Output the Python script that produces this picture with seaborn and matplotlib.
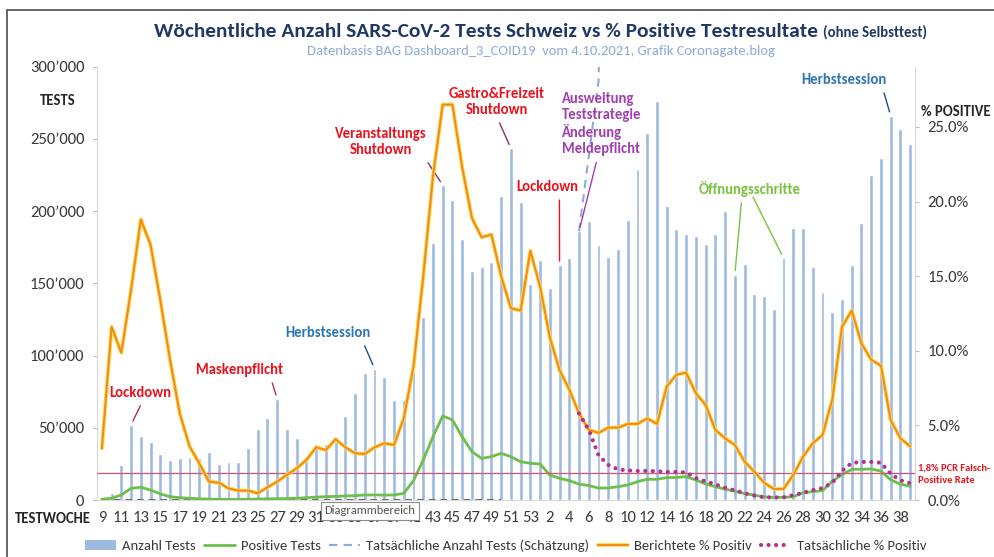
import numpy as np
import pandas as pd
import seaborn as sns
import matplotlib.pyplot as plt
import matplotlib.patheffects as pe
from matplotlib import font_manager
from matplotlib.lines import Line2D
from matplotlib.patches import Patch

# Testwochen KW 9/2020 bis KW 39/2021
weeks = list(range(9, 54)) + list(range(1, 40))
week_labels = [str(w) if i % 2 == 0 else '' for i, w in enumerate(weeks)]

# Anzahl Tests pro Woche (linke Achse)
tests = [800, 5000, 24000, 52000, 44000, 40000, 32000, 28000, 29000, 30000,
         29000, 33000, 25000, 26500, 26000, 36000, 49000, 57000, 70000, 49000,
         43000, 29000, 39000, 39000, 40500, 58000, 74000, 88000, 91000, 85500,
         69000, 69000, 89500, 127000, 178000, 218000, 208000, 180500, 158500, 161000,
         165000, 210500, 243500, 206500, 149500, 166500, 147000, 162500, 167500, 186000,
         193500, 176500, 168000, 174000, 194000, 229000, 254000, 276000, 203500, 187500,
         184000, 183000, 177000, 184000, 200000, 156000, 163500, 142500, 141000, 132500,
         167500, 188000, 188000, 161000, 144000, 130500, 139500, 162500, 191500, 225000,
         237000, 266000, 257000, 246500]

# positive Tests pro Woche (linke Achse)
positive = [500, 1200, 3500, 8100, 8800, 6900, 4200, 2300, 1600, 1200,
            800, 600, 500, 400, 400, 500, 700, 800, 900, 1000,
            1200, 1600, 2000, 2300, 2500, 2800, 3000, 3500, 3500, 3400,
            3500, 4600, 13400, 27700, 43800, 58200, 55400, 43800, 33500, 28800,
            30000, 32300, 30000, 26500, 25400, 24900, 17300, 15000, 13400, 11000,
            10000, 8300, 8300, 9200, 10400, 12700, 14300, 14300, 15500, 15600,
            16200, 13800, 11100, 9200, 7500, 6000, 4500, 3300, 2200, 1800,
            1800, 2200, 5000, 5800, 6500, 13000, 17500, 21200, 21300, 21500,
            20000, 14000, 11000, 9500]

# Tatsächliche Anzahl Tests (Schätzung)
est_zero_pos = list(range(0, 42))
est_zero = [0] * 42
est_pos = [49, 50, 51, 52]
est_tests = [186000, 238000, 290000, 600000]

# Berichtete % Positiv (rechte Achse)
pct_reported = [3.46, 11.6, 9.87, 14.1, 18.8, 17.1, 13.4, 9.4, 5.8, 3.6,
                2.46, 1.23, 1.16, 0.78, 0.63, 0.63, 0.45, 0.85, 1.23, 1.68,
                2.12, 2.68, 3.53, 3.35, 4.07, 3.53, 3.13, 3.08, 3.53, 3.8,
                3.69, 5.47, 8.94, 14.97, 21.7, 26.5, 26.5, 22.3, 18.9, 17.6,
                17.8, 15.0, 12.85, 12.7, 16.7, 14.3, 10.9, 8.7, 7.4, 5.8,
                4.7, 4.5, 4.85, 4.85, 5.1, 5.1, 5.47, 5.1, 7.6, 8.4,
                8.53, 7.15, 6.37, 4.7, 4.13, 3.69, 2.57, 1.9, 1.16, 0.74,
                0.74, 1.68, 2.9, 3.8, 4.36, 6.7, 11.6, 12.7, 10.5, 9.4,
                9.0, 5.36, 4.13, 3.6]

# Tatsächliche % Positiv ab KW 5/2021
pct_actual_pos = list(range(49, 84))
pct_actual = [5.8, 4.7, 3.0, 2.35, 2.05, 1.98, 1.95, 1.95, 1.93, 1.88,
              1.88, 1.85, 1.47, 1.24, 1.05, 0.82, 0.65, 0.45, 0.3, 0.18,
              0.17, 0.18, 0.33, 0.48, 0.66, 0.8, 1.15, 1.95, 2.48, 2.55,
              2.55, 2.5, 1.75, 1.32, 1.13]

false_pos_rate = 1.8

names = {f.name for f in font_manager.fontManager.ttflist}
base = next((n for n in ['Carlito', 'IBM Plex Sans Condensed', 'Liberation Sans'] if n in names),
            'DejaVu Sans')
sns.set_style('white')
plt.rcParams['font.family'] = [base, 'DejaVu Sans']

W, H = 995, 557
def fp(x, y):
    # Pixel (von oben links) -> figure fraction
    return (x / W, 1 - y / H)

RED = '#e8131f'
BLUE = '#2e75b6'
PURPLE = '#a040b0'
GREEN = '#7cc242'
TXT = '#3a3a3a'
BAR = '#9dbbe0'
ORANGE = '#f08a1c'
GLOW = [pe.Stroke(linewidth=2.8, foreground='#ffd84a'), pe.Normal()]

df = pd.DataFrame({'pos': range(len(weeks)), 'tests': tests,
                   'positive': positive, 'pct': pct_reported})

fig = plt.figure(figsize=(W / 100, H / 100), dpi=100)
ax = fig.add_axes([97 / W, 1 - 500 / H, (915 - 97) / W, (500 - 66.7) / H])

sns.barplot(data=df, x='pos', y='tests', color=BAR, saturation=1,
            width=0.4, errorbar=None, ax=ax, zorder=2)
sns.lineplot(x=est_zero_pos, y=est_zero, color='#555555', lw=1.2, ax=ax, zorder=3)
ax.lines[-1].set_linestyle((0, (4, 3)))
sns.lineplot(x=est_pos, y=est_tests, color='#8eaadb', lw=1.5, ax=ax, zorder=3)
ax.lines[-1].set_linestyle((0, (4, 3)))
sns.lineplot(data=df, x='pos', y='positive', color='#6cc04a', lw=2, ax=ax, zorder=4)

ax.set_xlim(-0.5, len(weeks) - 0.5)
ax.set_ylim(0, 300000)
ax.set_xticks(range(len(weeks)))
ax.set_xticklabels(week_labels)
ax.set_yticks(range(0, 300001, 50000))
ax.set_yticklabels([f'{v:,}'.replace(',', '\u2019') for v in range(0, 300001, 50000)])
ax.set_xlabel('')
ax.set_ylabel('')
ax.tick_params(axis='x', length=3, color='#bfbfbf', pad=5, labelsize=12, labelcolor=TXT)
ax.tick_params(axis='y', length=3, color='#bfbfbf', pad=6, labelsize=12, labelcolor=TXT, left=True)
for s in ['top', 'right']:
    ax.spines[s].set_visible(False)
for s in ['left', 'bottom']:
    ax.spines[s].set_color('#d9d9d9')

ax2 = ax.twinx()
sns.lineplot(data=df, x='pos', y='pct', color=ORANGE, lw=1.4, ax=ax2)
ax2.lines[-1].set_path_effects(GLOW)
sns.lineplot(x=pct_actual_pos, y=pct_actual, color='#b4338f', lw=3, ax=ax2)
ax2.lines[-1].set_linestyle((0, (0.01, 1.8)))
ax2.lines[-1].set_dash_capstyle('round')
ax2.axhline(false_pos_rate, color='#d9536a', lw=0.9, zorder=1)
ax2.set_ylim(0, 29.04)
ax2.set_yticks(range(0, 26, 5))
ax2.set_yticklabels([f'{v:.1f}%' for v in range(0, 26, 5)])
ax2.set_ylabel('')
ax2.tick_params(axis='y', length=3, color='#bfbfbf', pad=6, labelsize=12, labelcolor=TXT, right=True)
for s in ['top', 'left', 'bottom']:
    ax2.spines[s].set_visible(False)
ax2.spines['right'].set_color('#d9d9d9')

# Titel (Haupttitel + Zusatz, gemeinsam zentriert)
t1 = fig.text(*fp(152, 31), 'Wöchentliche Anzahl SARS-CoV-2 Tests Schweiz vs % Positive Testresultate',
              fontsize=15.4, fontweight='bold', color='#1f3864', ha='left', va='baseline')
t2 = fig.text(*fp(822, 31), '(ohne Selbsttest)', fontsize=10.5, fontweight='bold',
              color='#1f3864', ha='left', va='baseline')
fig.canvas.draw()
r = fig.canvas.get_renderer()
w1 = t1.get_window_extent(r).width
w2 = t2.get_window_extent(r).width
left = 541 - (w1 + 5 + w2) / 2
t1.set_position(fp(left, 37))
t2.set_position(fp(left + w1 + 5, 37))

fig.text(*fp(541, 51), 'Datenbasis BAG Dashboard_3_COID19  vom 4.10.2021, Grafik Coronagate.blog',
         fontsize=10.5, color='#8eaadb', ha='center', va='center')

fig.text(*fp(40, 101), 'TESTS', fontsize=10.5, fontweight='bold', color='#262626', va='center')
fig.text(*fp(921, 112), '% POSITIVE', fontsize=10.5, fontweight='bold', color='#262626', va='center')
fig.text(*fp(91, 519), 'TESTWOCHE', fontsize=10.5, fontweight='bold', color='#262626',
         ha='right', va='center')
fig.text(*fp(918, 474), '1,8% PCR Falsch-\nPositive Rate', fontsize=7.5, fontweight='bold',
         color=RED, va='center', linespacing=1.5)

# Annotationen
notes = [
    ('Lockdown', (140, 393), 'center', RED, '#b03050', 3, (0.55, 0)),
    ('Maskenpflicht', (240, 370), 'center', RED, '#b03050', 18, (0.85, 0)),
    ('Herbstsession', (328, 333), 'center', BLUE, '#1f4e79', 28, (0.9, 0)),
    ('Veranstaltungs\nShutdown', (381, 142), 'center', RED, '#903060', 35, (0.93, 0.2)),
    ('Gastro&Freizeit\nShutdown', (497, 102), 'center', RED, '#903060', 42, (0.5, 0)),
    ('Lockdown', (547, 187), 'center', RED, RED, 47, (0.7, 0)),
    ('Ausweitung\nTeststrategie\nÄnderung\nMeldepflicht', (562, 124), 'left', PURPLE, PURPLE, 49, (0.45, 0)),
    ('Öffnungsschritte', (750, 189), 'center', GREEN, GREEN, 65, (0.42, 0)),
    ('Herbstsession', (844, 80), 'center', BLUE, '#1f4e79', 81, (0.95, 0)),
]
for text, xy, ha, c, lc, idx, rel in notes:
    ax.annotate(text, xy=(idx, tests[idx]), xycoords='data',
                xytext=fp(*xy), textcoords='figure fraction',
                ha=ha, va='center', fontsize=10.5, fontweight='bold', color=c,
                multialignment=ha, linespacing=1.2,
                arrowprops=dict(arrowstyle='-', color=lc, lw=1, relpos=rel,
                                shrinkA=2, shrinkB=3))
ax.annotate('', xy=(70, tests[70]), xycoords='data', xytext=fp(753, 197),
            textcoords='figure fraction',
            arrowprops=dict(arrowstyle='-', color=GREEN, lw=1, shrinkA=0, shrinkB=3))

fig.text(*fp(370, 511), 'Diagrammbereich', fontsize=9, color='#555555', ha='center',
         va='center', zorder=10,
         bbox=dict(boxstyle='square,pad=0.3', fc='white', ec='#8c8c8c', lw=0.8))

# Rahmen
fig.add_artist(Line2D([7 / W, 7 / W], [0, 1 - 10 / H], color='#595959', lw=1.3))
fig.add_artist(Line2D([7 / W, 1], [1 - 10 / H, 1 - 10 / H], color='#595959', lw=1.3))

handles = [
    Patch(facecolor=BAR, edgecolor='none'),
    Line2D([], [], color='#6cc04a', lw=2),
    Line2D([], [], color='#8eaadb', lw=1.5, linestyle=(0, (4, 3))),
    Line2D([], [], color=ORANGE, lw=1.4, path_effects=GLOW),
    Line2D([], [], color='#b4338f', lw=3, linestyle=(0, (0.01, 1.8)), dash_capstyle='round'),
]
labels = ['Anzahl Tests', 'Positive Tests', 'Tatsächliche Anzahl Tests (Schätzung)',
          'Berichtete % Positiv', 'Tatsächliche % Positiv']
fig.legend(handles, labels, loc='center', bbox_to_anchor=fp(506, 546), ncol=5,
           frameon=False, fontsize=10.5, handlelength=2.1, columnspacing=0.6,
           handletextpad=0.4, labelcolor=TXT)

fig.savefig('out.png', dpi=100)
